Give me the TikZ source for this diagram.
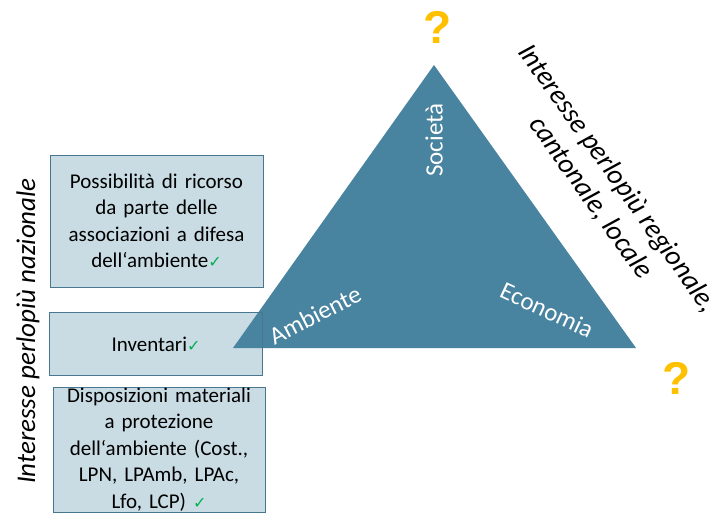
\documentclass[tikz,border=0pt]{standalone}
\usepackage{fontspec}
\setmainfont{Carlito}
\newfontfamily\tickfont{DejaVu Sans}
\newfontfamily\qfont{Liberation Sans}
\usepackage{xcolor}
\definecolor{TriBlue}{RGB}{72,131,159}
\definecolor{BoxFill}{RGB}{201,220,228}
\definecolor{BoxLine}{RGB}{72,118,142}
\definecolor{QGold}{RGB}{255,192,0}
\definecolor{TickGreen}{RGB}{0,176,80}
\usetikzlibrary{positioning}
\newcommand{\okmark}{{\tickfont\fontsize{16}{16}\selectfont\color{TickGreen}✓}}

\begin{document}
\begin{tikzpicture}[
    x=1pt, y=-1pt,
    font=\fontsize{21}{26.5}\selectfont,
    info_box/.style={draw=BoxLine, fill=BoxFill, line width=1pt, align=center, text width=206pt, inner sep=0pt},
    corner_label/.style={text=white, font=\fontsize{25}{25}\selectfont, inner sep=0pt},
    side_label/.style={text=black, align=center, font=\fontsize{27}{33}\selectfont\itshape, inner sep=0pt},
    question_mark/.style={text=QGold, font=\qfont\fontsize{46}{46}\selectfont\bfseries, inner sep=0pt}
]
    \useasboundingbox (0,0) rectangle (726,514);

    % 1. BOXES (left column)
    \node[info_box, minimum width=213pt, minimum height=132pt] (ricorso) at (156.5,221) {Possibilità di ricorso\\da parte delle\\associazioni a difesa\\dell‘ambiente\okmark};
    \node[info_box, draw=none, minimum width=212pt, minimum height=62pt] (inventari) at (156,344) {Inventari\okmark};
    \node[info_box, minimum width=212pt, minimum height=125pt] (disposizioni) at (159,449.5) {Disposizioni materiali\\a protezione\\dell‘ambiente (Cost.,\\LPN, LPAmb, LPAc,\\Lfo, LCP) \okmark};

    % 2. THE TRIANGLE
    \coordinate (apex) at (434,65);
    \coordinate (left) at (233,348);
    \coordinate (right) at (636,348);
    \fill[TriBlue] (apex) -- (left) -- (right) -- cycle;
    \draw[BoxLine, line width=1pt] (inventari.north west) rectangle (inventari.south east);

    % 3. CORNER LABELS
    \node[corner_label, rotate=90] (societa) at (434,140) {Società};
    \node[corner_label, rotate=27] (ambiente) at (315,315) {Ambiente};
    \node[corner_label, rotate=-25] (economia) at (547,310) {Economia};

    % 4. SIDE LABELS
    \node[side_label, rotate=90] (nazionale) at (28,331) {Interesse perlopiù nazionale};
    \node[side_label, font=\fontsize{28}{33}\selectfont\itshape, rotate=-54.5] (regionale) at (604,188) {Interesse perlopiù regionale,\\cantonale, locale};

    % 5. QUESTION MARKS
    \node[question_mark] (q_top) at (438,27) {?};
    \node[question_mark] (q_right) at (677,378) {?};
\end{tikzpicture}
\end{document}
